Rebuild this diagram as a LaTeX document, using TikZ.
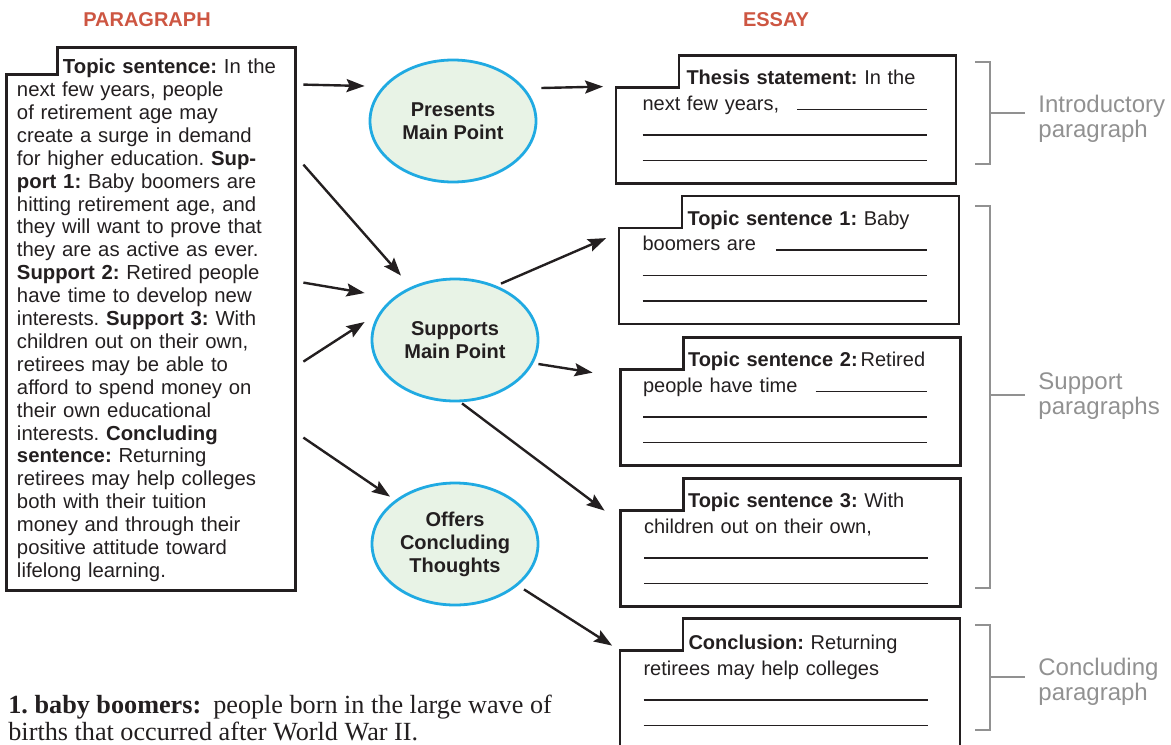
\documentclass[tikz,border=0pt]{standalone}
\usepackage{fontspec}
\setmainfont{Liberation Sans}
\newfontfamily\notefont{Liberation Serif}
\usetikzlibrary{arrows.meta,shapes.geometric}

\definecolor{headred}{RGB}{205,86,66}
\definecolor{ringblue}{RGB}{32,170,226}
\definecolor{ringfill}{RGB}{232,243,230}
\definecolor{inkgray}{RGB}{35,31,32}
\definecolor{bracegray}{RGB}{145,145,145}

\newcommand\blank{\leavevmode\leaders\hrule height 0.8pt\hskip 0pt plus 1filll\null}

\begin{document}
\frenchspacing
\begin{tikzpicture}[x=0.5pt,y=-0.5pt,
  box/.style={draw=none,inner sep=0,minimum width=169.5pt,minimum height=63.5pt},
  outline/.style={draw=inkgray,line width=1.25pt},
  idea/.style={ellipse,draw=ringblue,line width=1.4pt,fill=ringfill,inner sep=0,
    minimum width=83pt,minimum height=61pt,align=center,text=inkgray,
    font=\fontsize{10}{11.5}\selectfont\bfseries},
  paratext/.style={anchor=base west,inner sep=0,text width=140pt,align=left,text=inkgray,
    font=\fontsize{10.15}{11.45}\selectfont},
  essaytext/.style={anchor=base west,inner sep=0,text width=142pt,align=left,text=inkgray,
    font=\fontsize{10}{12.75}\selectfont},
  head/.style={text=headred,font=\fontsize{10}{12}\selectfont\bfseries},
  brace/.style={draw=bracegray,line width=0.6pt},
  bracelabel/.style={anchor=base west,inner sep=0,align=left,text=bracegray,
    font=\fontsize{12}{12.5}\selectfont},
  arr/.style={draw=inkgray,line width=1.2pt,-{Stealth[length=9pt,width=6.5pt,inset=1.5pt]}}]

\useasboundingbox (0,0) rectangle (1171,744);
\clip (0,0) rectangle (1171,744);

\node[head] (parahead) at (147,20) {PARAGRAPH};
\node[head] (essayhead) at (776,20) {ESSAY};

% the paragraph
\node[box,minimum width=144pt,minimum height=271pt] (para) at (151,319) {};
\draw[outline] ([xshift=25.5pt]para.north west) -- (para.north east) -- (para.south east)
  -- (para.south west) -- ([yshift=-13.5pt]para.north west)
  -- ([shift={(25.5pt,-13.5pt)}]para.north west) -- cycle;
\node[paratext] (para-t) at ([shift={(5pt,-13pt)}]para.north west)
 {\hspace*{23pt}\textbf{Topic sentence:} In the\\
  next few years, people\\
  of retirement age may\\
  create a surge in demand\\
  for higher education. \textbf{Sup-}\\
  \textbf{port 1:} Baby boomers are\\
  hitting retirement age, and\\
  they will want to prove that\\
  they are as active as ever.\\
  \textbf{Support 2:} Retired people\\
  have time to develop new\\
  interests. \textbf{Support 3:} With\\
  children out on their own,\\
  retirees may be able to\\
  afford to spend money on\\
  their own educational\\
  interests. \textbf{Concluding}\\
  \textbf{sentence:} Returning\\
  retirees may help colleges\\
  both with their tuition\\
  money and through their\\
  positive attitude toward\\
  lifelong learning.};

% the three roles
\node[idea] (pres) at (453,121) {Presents\\Main Point};
\node[idea] (supp) at (455,340) {Supports\\Main Point};
\node[idea] (conc) at (455,544) {Offers\\Concluding\\Thoughts};

% the essay
\node[box] (thesis) at (786,119.5) {};
\node[box] (topic1) at (789,260) {};
\node[box] (topic2) at (790.5,401.5) {};
\node[box] (topic3) at (790.5,542.5) {};
\node[box,minimum height=75.5pt] (closing) at (790,694.5) {};
\foreach \b in {thesis,topic1,topic2,topic3,closing}
  \draw[outline] ([xshift=31.5pt]\b.north west) -- (\b.north east) -- (\b.south east)
    -- (\b.south west) -- ([yshift=-16pt]\b.north west)
    -- ([shift={(31.5pt,-16pt)}]\b.north west) -- cycle;

\node[essaytext] (thesis-t) at ([shift={(13pt,-14.5pt)}]thesis.north west)
 {\hspace*{22pt}\textbf{Thesis statement:} In the\\
  next few years,\hspace{9pt}\blank\\ \blank\\ \blank};
\node[essaytext] (topic1-t) at ([shift={(11.5pt,-14.5pt)}]topic1.north west)
 {\hspace*{22.5pt}\textbf{Topic sentence 1:} Baby\\
  boomers are\hspace{10pt}\blank\\ \blank\\ \blank};
\node[essaytext] (topic2-t) at ([shift={(11pt,-14.5pt)}]topic2.north west)
 {\hspace*{22.5pt}\textbf{Topic sentence 2:}\hspace{1.5pt}Retired\\
  people have time\hspace{9pt}\blank\\ \blank\\ \blank};
\node[essaytext] (topic3-t) at ([shift={(11.5pt,-14.5pt)}]topic3.north west)
 {\hspace*{22pt}\textbf{Topic sentence 3:} With\\
  children out on their own,\\ \blank\\ \blank};
\node[essaytext] (closing-t) at ([shift={(11.5pt,-15.5pt)}]closing.north west)
 {\hspace*{22.5pt}\textbf{Conclusion:} Returning\\
  retirees may help colleges\\ \blank\\ \blank};

% arrows
\draw[arr] ([shift={(4pt,-18.5pt)}]para.north east) -- ([shift={(-2pt,17.5pt)}]pres.west);
\draw[arr] ([shift={(2pt,16.5pt)}]pres.east) -- ([shift={(-6.5pt,-15.5pt)}]thesis.north west);
\draw[arr] ([shift={(4pt,-58.5pt)}]para.north east) -- ([shift={(-27pt,1pt)}]supp.north);
\draw[arr] ([shift={(4pt,-117.5pt)}]para.north east) -- ([shift={(-3pt,23.5pt)}]supp.west);
\draw[arr] ([shift={(4pt,-157pt)}]para.north east) -- ([shift={(-3pt,9pt)}]supp.west);
\draw[arr] ([shift={(23pt,-3pt)}]supp.north) -- ([shift={(-6.5pt,-21pt)}]topic1.north west);
\draw[arr] ([shift={(-0.5pt,-12pt)}]supp.east) -- ([shift={(-14pt,-17.5pt)}]topic2.north west);
\draw[arr] ([shift={(3.5pt,-0.5pt)}]supp.south) -- ([shift={(-8pt,-16pt)}]topic3.north west);
\draw[arr] ([shift={(4pt,-195pt)}]para.north east) -- ([shift={(-32.5pt,-7.5pt)}]conc.north);
\draw[arr] ([shift={(34.5pt,8.5pt)}]conc.south) -- ([shift={(-4pt,-13.5pt)}]closing.north west);

% brackets
\draw[brace] (975,62) -- (990,62) -- (990,164) -- (975,164) (990,113) -- (1025,113);
\draw[brace] (975,206) -- (990,206) -- (990,588) -- (975,588) (990,395) -- (1025,395);
\draw[brace] (975,625) -- (990,625) -- (990,730) -- (975,730) (990,677) -- (1025,677);
\node[bracelabel] (introlab) at (1038,137) {Introductory\\paragraph};
\node[bracelabel] (supplab) at (1038,414) {Support\\paragraphs};
\node[bracelabel] (conclab) at (1038,700) {Concluding\\paragraph};

% footnote
\node[anchor=base west,inner sep=0,align=left,text=inkgray,
  font=\notefont\fontsize{13.1}{12}\selectfont] (footnote) at (8,740)
 {\textbf{1. baby boomers:}\hspace{6pt}people born in the large wave of\\
  births that occurred after World War II.};

\end{tikzpicture}
\end{document}
